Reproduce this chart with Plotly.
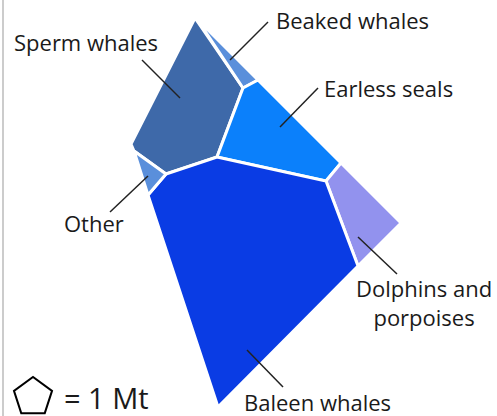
import plotly.graph_objects as go

# Voronoi treemap cells (vertex coordinates in the chart's unit space, y downward)
categories = ["Sperm whales", "Beaked whales", "Earless seals", "Dolphins and<br>porpoises",
              "Baleen whales", "Other"]
mass_mt = [9.5, 1.3, 9.0, 3.6, 31.0, 0.6]
colors = ["#3e69a9", "#5a8fdb", "#0b80fb", "#9292ee", "#0a3ce4", "#5a8fdb"]

cell_x = [
    [195, 243, 217, 166, 134, 131],
    [197, 258, 243],
    [243, 258, 341, 326, 217],
    [341, 401, 358, 326],
    [166, 217, 326, 358, 218, 148],
    [134, 166, 148],
]
cell_y = [
    [18, 88, 157, 174, 151, 144],
    [19, 80, 88],
    [88, 80, 163, 181, 157],
    [163, 223, 266, 181],
    [174, 157, 181, 266, 407, 195],
    [151, 174, 195],
]

# label text anchor and leader line (from label to cell)
label_x = [86, 352, 388, 424, 317, 94]
label_y = [42, 20, 88, 302, 402, 223]
leader_x = [[142, 180], [268, 230], [318, 280], [397, 358], [283, 247], [110, 148]]
leader_y = [[60, 98], [22, 60], [88, 127], [274, 237], [387, 350], [212, 176]]

legend_text = "= 1 Mt"

fig = go.Figure()

for name, m, c, xs, ys in zip(categories, mass_mt, colors, cell_x, cell_y):
    fig.add_trace(go.Scatter(
        x=xs + [xs[0]], y=ys + [ys[0]], fill="toself", fillcolor=c, mode="lines",
        line=dict(color="white", width=3), name=name.replace("<br>", " "),
        hovertemplate=f"{name.replace('<br>', ' ')}: {m} Mt<extra></extra>",
    ))

for lx, ly in zip(leader_x, leader_y):
    fig.add_trace(go.Scatter(x=lx, y=ly, mode="lines", line=dict(color="#222222", width=1.5),
                             hoverinfo="skip"))

for name, tx, ty in zip(categories, label_x, label_y):
    fig.add_annotation(x=tx, y=ty, text=name, showarrow=False, xanchor="center", yanchor="middle",
                       font=dict(family="Open Sans", size=22, color="#1a1a1a"))

# pentagon legend symbol (1 Mt)
fig.add_trace(go.Scatter(x=[33], y=[397], mode="markers",
                         marker=dict(symbol="pentagon-open", size=40, color="black",
                                     line=dict(width=2, color="black")),
                         hoverinfo="skip"))
fig.add_annotation(x=106, y=397, text=legend_text, showarrow=False, xanchor="center",
                   yanchor="middle", font=dict(family="Open Sans", size=29, color="#1a1a1a"))

# left frame line
fig.add_shape(type="line", x0=3, x1=3, y0=0, y1=416, line=dict(color="#999999", width=1))

fig.update_layout(
    width=497, height=416, margin=dict(l=0, r=0, t=0, b=0),
    paper_bgcolor="white", plot_bgcolor="white", showlegend=False,
    xaxis=dict(range=[0, 497], visible=False, fixedrange=True),
    yaxis=dict(range=[416, 0], visible=False, fixedrange=True),
)

fig.write_html("out.html", config={"displayModeBar": False},
               post_script="document.body.style.margin='0px';document.body.style.overflow='hidden';")
